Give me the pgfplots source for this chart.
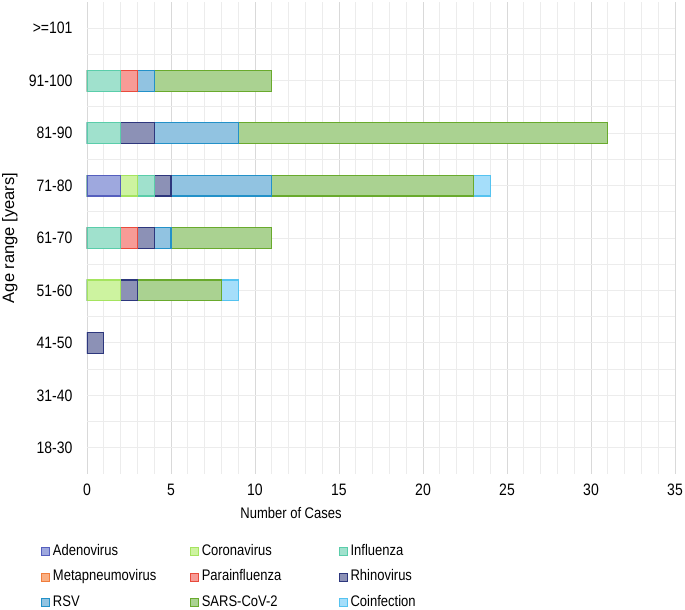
\documentclass[border=0pt]{standalone}
\usepackage{fontspec}
\setmainfont{Liberation Sans}
\usepackage{graphicx}
\usepackage{pgfplots}
\pgfplotsset{compat=1.18}

\definecolor{gridmajor}{RGB}{217,217,217}
\definecolor{gridminor}{RGB}{236,236,236}
\definecolor{adenoF}{RGB}{158,168,222}  \definecolor{adenoD}{RGB}{85,95,190}
\definecolor{coronaF}{RGB}{205,243,160} \definecolor{coronaD}{RGB}{165,228,95}
\definecolor{influF}{RGB}{160,225,205}  \definecolor{influD}{RGB}{90,205,170}
\definecolor{metaF}{RGB}{250,175,130}   \definecolor{metaD}{RGB}{240,125,60}
\definecolor{paraF}{RGB}{247,155,150}   \definecolor{paraD}{RGB}{232,75,60}
\definecolor{rhinoF}{RGB}{140,145,182}  \definecolor{rhinoD}{RGB}{45,55,125}
\definecolor{rsvF}{RGB}{145,195,225}    \definecolor{rsvD}{RGB}{35,145,200}
\definecolor{sarsF}{RGB}{170,210,145}   \definecolor{sarsD}{RGB}{105,170,45}
\definecolor{coinfF}{RGB}{165,222,250}  \definecolor{coinfD}{RGB}{85,195,240}

% text in the reference is a little taller than it is wide
\newcommand{\vs}[1]{\scalebox{1}[1.18]{#1}}

\pgfplotsset{
  sqlegend/.style={legend image code/.code={\draw[##1,line width=0.8bp] (0bp,-4bp) rectangle (8bp,4bp);}},
  seg/.style={xbar, bar shift=0pt, bar width=0.4, line width=1.1bp, sqlegend},
}

\begin{document}
\fontsize{13bp}{15bp}\selectfont
\begin{tikzpicture}
\begin{axis}[
  scale only axis, width=588bp, height=472bp,
  xmin=0, xmax=35, ymin=-0.5, ymax=8.5,
  xtick={0,5,...,35}, minor x tick num=4,
  ytick={0,...,8}, minor y tick num=1,
  yticklabels={18-30,31-40,41-50,51-60,61-70,71-80,81-90,91-100,>=101},
  grid=both,
  grid style={color=gridminor, line width=0.8bp},
  major x grid style={color=gridmajor},
  axis line style={draw=none},
  major tick length=0pt, minor tick length=0pt,
  /pgf/number format/assume math mode=true,
  every tick label/.append style={font=\fontsize{14bp}{16bp}\selectfont, yscale=1.18},
  xticklabel style={yshift=-4bp},
  yticklabel style={xshift=-10bp},
  xlabel={\vs{Number of Cases}},
  xlabel style={at={(axis description cs:0.347,-0.083)}, anchor=center},
  ylabel={Age range [years]},
  ylabel style={at={(axis description cs:-0.131,0.5)}, anchor=center,
    font=\fontsize{16.5bp}{18bp}\selectfont},
  reverse legend,
  legend columns=3,
  legend cell align=left,
  legend style={at={(axis description cs:0,0)}, anchor=north west,
    xshift=-46bp, yshift=-71bp, draw=none, fill=none,
    inner sep=0pt, column sep=3bp, row sep=12.5bp,
    nodes={inner sep=0pt, text height=10bp, text depth=3bp,
      text width=134bp, align=left, anchor=west}},
]
% each bar runs from 0 to the right end of its segment (cumulative count);
% drawn from the last series to the first so every segment shows on top
\addplot[seg, fill=coinfF, draw=coinfD] coordinates {(24,5) (9,3)};
\addlegendentry{\vs{Coinfection}}
\addplot[seg, fill=sarsF, draw=sarsD] coordinates {(11,7) (31,6) (23,5) (11,4) (8,3)};
\addlegendentry{\vs{SARS-CoV-2}}
\addplot[seg, fill=rsvF, draw=rsvD] coordinates {(4,7) (9,6) (11,5) (5,4)};
\addlegendentry{\vs{RSV}}
\addplot[seg, fill=rhinoF, draw=rhinoD] coordinates {(4,6) (5,5) (4,4) (3,3) (1,2)};
\addlegendentry{\vs{Rhinovirus}}
\addplot[seg, fill=paraF, draw=paraD] coordinates {(3,7) (3,4)};
\addlegendentry{\vs{Parainfluenza}}
\addlegendimage{sqlegend, fill=metaF, draw=metaD}
\addlegendentry{\vs{Metapneumovirus}}
\addplot[seg, fill=influF, draw=influD] coordinates {(2,7) (2,6) (4,5) (2,4)};
\addlegendentry{\vs{Influenza}}
\addplot[seg, fill=coronaF, draw=coronaD] coordinates {(3,5) (2,3)};
\addlegendentry{\vs{Coronavirus}}
\addplot[seg, fill=adenoF, draw=adenoD] coordinates {(2,5)};
\addlegendentry{\vs{Adenovirus}}
\end{axis}
\path (current axis.south west) ++(-87bp,-136bp) coordinate (bl);
\path (current axis.north east) ++(10bp,2bp) coordinate (tr);
\pgfresetboundingbox
\useasboundingbox (bl) rectangle (tr);
\end{tikzpicture}
\end{document}
